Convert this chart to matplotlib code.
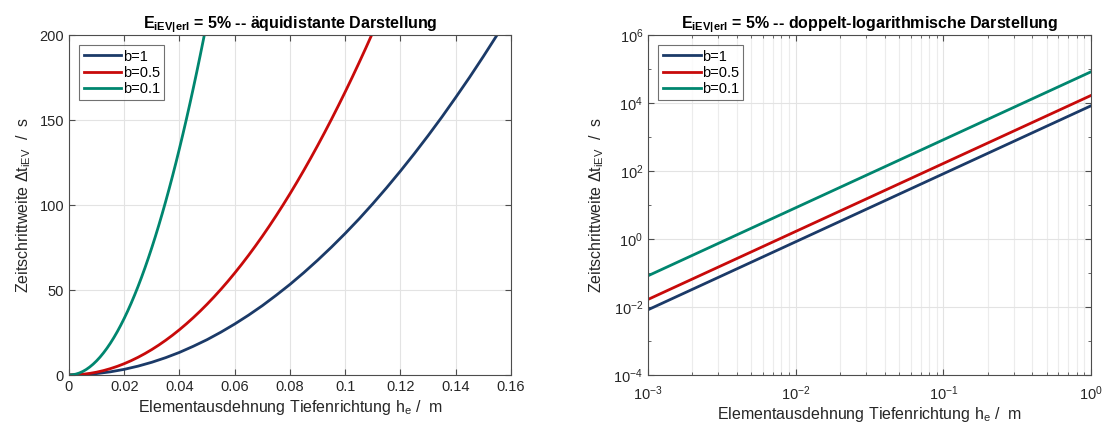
import matplotlib
matplotlib.use("Agg")
import matplotlib.pyplot as plt
from matplotlib.ticker import LogLocator, NullFormatter

plt.rcParams['font.family'] = ['Liberation Sans', 'DejaVu Sans']
plt.rcParams['mathtext.fontset'] = 'custom'
plt.rcParams['mathtext.rm'] = 'Liberation Sans'
plt.rcParams['mathtext.it'] = 'Liberation Sans'
plt.rcParams['mathtext.bf'] = 'Liberation Sans:bold'

# ---------------- data ----------------
labels = ['b=1', 'b=0.5', 'b=0.1']
colors = ['#1b3a68', '#c80a0a', '#00866f']

# linear plot
h_b1 = [0, 0.005, 0.01, 0.015, 0.02, 0.025, 0.03, 0.035, 0.04, 0.045, 0.05,
        0.055, 0.06, 0.065, 0.07, 0.075, 0.08, 0.085, 0.09, 0.095, 0.10,
        0.105, 0.11, 0.115, 0.12, 0.125, 0.13, 0.135, 0.14, 0.145, 0.15, 0.155]
dt_b1 = [0, 0.21, 0.83, 1.87, 3.33, 5.21, 7.50, 10.2, 13.3, 16.9, 20.8,
         25.2, 30.0, 35.2, 40.8, 46.9, 53.3, 60.2, 67.5, 75.2, 83.3,
         91.8, 100.8, 110.2, 120.0, 130.2, 140.8, 151.8, 163.3, 175.1, 187.4, 200.1]

h_b05 = [0, 0.0025, 0.005, 0.0075, 0.01, 0.0125, 0.015, 0.0175, 0.02, 0.0225,
         0.025, 0.0275, 0.03, 0.0325, 0.035, 0.0375, 0.04, 0.0425, 0.045, 0.0475,
         0.05, 0.0525, 0.055, 0.0575, 0.06, 0.0625, 0.065, 0.0675, 0.07, 0.0725,
         0.075, 0.0775, 0.08, 0.0825, 0.085, 0.0875, 0.09, 0.0925, 0.095, 0.0975,
         0.10, 0.1025, 0.105, 0.1075, 0.11]
dt_b05 = [0, 0.10, 0.42, 0.94, 1.67, 2.60, 3.75, 5.10, 6.66, 8.43,
          10.41, 12.60, 14.99, 17.60, 20.41, 23.43, 26.66, 30.09, 33.74, 37.59,
          41.65, 45.92, 50.40, 55.08, 59.98, 65.08, 70.39, 75.91, 81.63, 87.57,
          93.71, 100.06, 106.62, 113.39, 120.37, 127.55, 134.95, 142.55, 150.36, 158.38,
          166.60, 175.03, 183.68, 192.53, 201.59]

h_b01 = [0, 0.00125, 0.0025, 0.00375, 0.005, 0.00625, 0.0075, 0.00875, 0.01, 0.01125,
         0.0125, 0.01375, 0.015, 0.01625, 0.0175, 0.01875, 0.02, 0.02125, 0.0225, 0.02375,
         0.025, 0.02625, 0.0275, 0.02875, 0.03, 0.03125, 0.0325, 0.03375, 0.035, 0.03625,
         0.0375, 0.03875, 0.04, 0.04125, 0.0425, 0.04375, 0.045, 0.04625, 0.0475, 0.04875,
         0.05]
dt_b01 = [0, 0.13, 0.52, 1.17, 2.08, 3.25, 4.69, 6.38, 8.33, 10.54,
          13.02, 15.75, 18.74, 22.00, 25.51, 29.29, 33.32, 37.62, 42.17, 46.99,
          52.06, 57.40, 63.00, 68.86, 74.97, 81.35, 87.99, 94.89, 102.05, 109.47,
          117.14, 125.08, 133.28, 141.74, 150.46, 159.45, 168.69, 178.19, 187.96, 197.98,
          208.26]

# log-log plot
h_log = [1e-3, 1.0]
dt_log_b1 = [8.3e-3, 8.3e3]
dt_log_b05 = [1.67e-2, 1.67e4]
dt_log_b01 = [8.3e-2, 8.3e4]

xticks_lin = [0, 0.02, 0.04, 0.06, 0.08, 0.10, 0.12, 0.14, 0.16]
xticklabels_lin = ['0', '0.02', '0.04', '0.06', '0.08', '0.1', '0.12', '0.14', '0.16']
yticks_lin = [0, 50, 100, 150, 200]
yticks_log = [1e-4, 1e-2, 1e0, 1e2, 1e4, 1e6]
xticks_log = [1e-3, 1e-2, 1e-1, 1e0]

title_left = r'$\mathbf{E_{iEV|erl}}$ = 5% -- äquidistante Darstellung'
title_right = r'$\mathbf{E_{iEV|erl}}$ = 5% -- doppelt-logarithmische Darstellung'
xlabel = r'Elementausdehnung Tiefenrichtung $\mathregular{h_e}$ /  m'
ylabel = r'Zeitschrittweite $\mathregular{\Delta t_{iEV}}$  /  s'

# ---------------- figure ----------------
fig = plt.figure(figsize=(11.07, 4.30), dpi=100)
axL = fig.add_axes([0.0623, 0.1279, 0.3993, 0.7907])
axR = fig.add_axes([0.5854, 0.1279, 0.4002, 0.7907])

lw = 2.0
axis_col = '#262626'

def style(ax):
    for s in ax.spines.values():
        s.set_color('#4d4d4d')
        s.set_linewidth(0.8)
    ax.tick_params(which='both', direction='in', top=True, right=True,
                   colors='#4d4d4d', labelcolor=axis_col, labelsize=10.5)
    ax.tick_params(which='major', length=4)
    ax.tick_params(which='minor', length=2)
    ax.set_axisbelow(True)

# left
for x, y, c, l in zip([h_b1, h_b05, h_b01], [dt_b1, dt_b05, dt_b01], colors, labels):
    axL.plot(x, y, color=c, lw=lw, label=l)
axL.set_xlim(0, 0.16)
axL.set_ylim(0, 200)
axL.set_xticks(xticks_lin)
axL.set_xticklabels(xticklabels_lin)
axL.set_yticks(yticks_lin)
axL.grid(True, color='#e3e3e3', lw=0.8)
style(axL)
axL.set_title(title_left, fontsize=11.5, fontweight='bold', pad=5)
axL.set_xlabel(xlabel, fontsize=11.5, color=axis_col, labelpad=3)
axL.set_ylabel(ylabel, fontsize=11.5, color=axis_col, labelpad=5)

# right
for y, c, l in zip([dt_log_b1, dt_log_b05, dt_log_b01], colors, labels):
    axR.plot(h_log, y, color=c, lw=lw, label=l)
axR.set_xscale('log')
axR.set_yscale('log')
axR.set_xlim(1e-3, 1)
axR.set_ylim(1e-4, 1e6)
axR.set_xticks(xticks_log)
axR.set_yticks(yticks_log)
axR.xaxis.set_minor_locator(LogLocator(base=10, subs=range(2, 10), numticks=20))
axR.xaxis.set_minor_formatter(NullFormatter())
axR.yaxis.set_minor_locator(LogLocator(base=10, subs=[1.0], numticks=20))
axR.yaxis.set_minor_formatter(NullFormatter())
axR.grid(True, which='major', color='#e3e3e3', lw=0.8)
axR.grid(True, which='minor', axis='x', color='#ececec', lw=0.8)
style(axR)
axR.tick_params(axis='x', which='major', pad=7)
axR.set_title(title_right, fontsize=11.5, fontweight='bold', pad=5)
axR.set_xlabel(xlabel, fontsize=11.5, color=axis_col, labelpad=1)
axR.set_ylabel(ylabel, fontsize=11.5, color=axis_col, labelpad=5)

for ax in (axL, axR):
    leg = ax.legend(loc='upper left', fontsize=10.5, frameon=True, fancybox=False,
                    handlelength=2.6, handletextpad=0.1, borderpad=0.3,
                    labelspacing=0.15, borderaxespad=0.7)
    leg.get_frame().set_edgecolor('#4d4d4d')
    leg.get_frame().set_linewidth(0.8)

fig.savefig('out.png', dpi=100)
